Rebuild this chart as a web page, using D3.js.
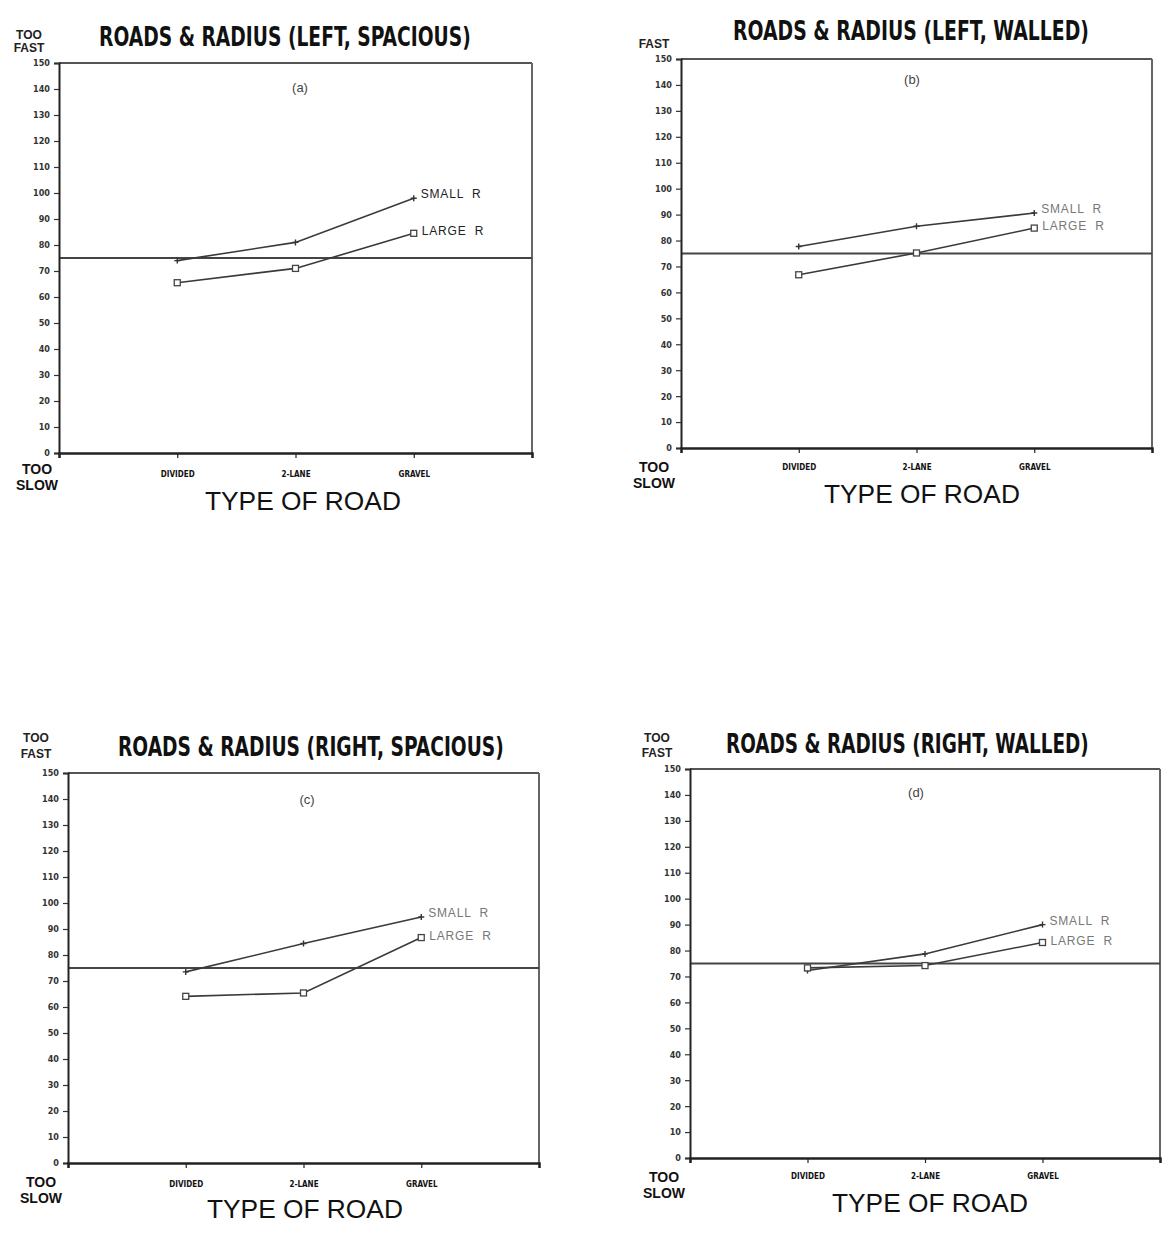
<!DOCTYPE html>
<html><head><meta charset="utf-8">
<script src="https://cdn.jsdelivr.net/npm/d3@7"></script>
<style>
html,body{margin:0;padding:0;background:#fff;}
svg{display:block;}
</style></head>
<body>
<svg id="chart" width="1162" height="1236"></svg>
<script>
// ---------- DATA ----------
const categories = ["DIVIDED", "2-LANE", "GRAVEL"];
const yTickValues = [0,10,20,30,40,50,60,70,80,90,100,110,120,130,140,150];
const titles = [
  "ROADS & RADIUS (LEFT, SPACIOUS)",
  "ROADS & RADIUS (LEFT, WALLED)",
  "ROADS & RADIUS (RIGHT, SPACIOUS)",
  "ROADS & RADIUS (RIGHT, WALLED)"
];
const panelTags = ["(a)", "(b)", "(c)", "(d)"];
const seriesNames = ["SMALL  R", "LARGE  R"];
const referenceValue = 75;

const smallR_a = [74, 81, 98];
const largeR_a = [65.5, 71, 84.5];
const smallR_b = [77.7, 85.5, 90.6];
const largeR_b = [66.8, 75.2, 84.8];
const smallR_c = [73.5, 84.4, 94.6];
const largeR_c = [64.1, 65.4, 86.7];
const smallR_d = [72.3, 78.7, 90];
const largeR_d = [73.3, 74.2, 83.1];

const smallSeries = [smallR_a, smallR_b, smallR_c, smallR_d];
const largeSeries = [largeR_a, largeR_b, largeR_c, largeR_d];

// ---------- LAYOUT ----------
const layout = [
  {x0:59,  x1:532,  yb:453,  yt:63,  titleX:[99,471],  titleY:46,
   fast:{x:29, y:[39,52], lines:["TOO","FAST"]}, slow:{x:37, y:[474,490]},
   catY:477, roadY:510, roadX:303, tag:[300,92]},
  {x0:681, x1:1152, yb:448,  yt:59,  titleX:[733,1089], titleY:40,
   fast:{x:654, y:[48], lines:["FAST"]}, slow:{x:654, y:[472,488]},
   catY:470, roadY:503, roadX:922, tag:[912,84]},
  {x0:68,  x1:539,  yb:1163, yt:773, titleX:[118,504], titleY:756,
   fast:{x:36, y:[742,758], lines:["TOO","FAST"]}, slow:{x:41, y:[1187,1203]},
   catY:1187, roadY:1218, roadX:305, tag:[307,804]},
  {x0:690, x1:1160, yb:1158, yt:769, titleX:[726,1089], titleY:753,
   fast:{x:657, y:[742,757], lines:["TOO","FAST"]}, slow:{x:664, y:[1182,1198]},
   catY:1179, roadY:1212, roadX:930, tag:[916,797]}
];

const svg = d3.select("#chart");
const narrow = "'Liberation Sans Narrow','DejaVu Sans Condensed','Liberation Sans',Arial,sans-serif";
const sans = "'Liberation Sans',Arial,Helvetica,sans-serif";

// place a text so it spans exactly [xa, xb] by horizontal scaling
function fitText(sel, xa, xb, yBase) {
  const w = sel.node().getComputedTextLength();
  const s = (xb - xa) / w;
  sel.attr("x", 0).attr("y", 0)
     .attr("transform", `translate(${xa},${yBase}) scale(${s},1)`);
}

layout.forEach((L, i) => {
  const g = svg.append("g");
  const x = d3.scalePoint().domain(["_start", ...categories, "_end"]).range([L.x0, L.x1]);
  const y = d3.scaleLinear().domain([0, 150]).range([L.yb, L.yt]);

  // title
  const t = g.append("text")
    .style("font-family", narrow).style("font-weight", "bold")
    .style("font-size", "27px").attr("fill", "#111")
    .text(titles[i]);
  fitText(t, L.titleX[0], L.titleX[1], L.titleY);

  // TOO FAST
  L.fast.lines.forEach((tx, k) => {
    g.append("text").attr("x", L.fast.x).attr("y", L.fast.y[k])
      .attr("text-anchor", "middle")
      .style("font-family", sans).style("font-weight", "bold").style("font-size", "12px")
      .attr("fill", "#222").text(tx);
  });
  // TOO SLOW
  ["TOO", "SLOW"].forEach((tx, k) => {
    g.append("text").attr("x", L.slow.x).attr("y", L.slow.y[k])
      .attr("text-anchor", "middle")
      .style("font-family", sans).style("font-weight", "bold").style("font-size", "14px")
      .attr("fill", "#111").text(tx);
  });

  // frame: top and right
  g.append("line").attr("x1", L.x0).attr("x2", L.x1).attr("y1", y(150)).attr("y2", y(150))
    .attr("stroke", "#555").attr("stroke-width", 2);
  g.append("line").attr("x1", L.x1).attr("x2", L.x1).attr("y1", y(150)).attr("y2", y(0))
    .attr("stroke", "#666").attr("stroke-width", 2);

  // reference line
  g.append("line").attr("x1", L.x0).attr("x2", L.x1)
    .attr("y1", y(referenceValue)).attr("y2", y(referenceValue))
    .attr("stroke", "#444").attr("stroke-width", 2);

  // y axis
  const ya = g.append("g").attr("transform", `translate(${L.x0},0)`)
    .call(d3.axisLeft(y).tickValues(yTickValues).tickSize(5).tickPadding(4).tickFormat(d3.format("d")));
  ya.select(".domain").attr("stroke", "#222").attr("stroke-width", 2);
  ya.selectAll(".tick line").attr("stroke", "#333").attr("stroke-width", 1.2);
  ya.selectAll(".tick text").style("font-family", narrow).style("font-weight", "bold")
    .style("font-size", "9px").attr("fill", "#333");

  // x axis
  const xa = g.append("g").attr("transform", `translate(0,${L.yb})`)
    .call(d3.axisBottom(x).tickSize(5).tickPadding(10)
      .tickFormat(d => d.startsWith("_") ? "" : d));
  xa.select(".domain").attr("stroke", "#222").attr("stroke-width", 2.5);
  xa.selectAll(".tick line").attr("stroke", "#222").attr("stroke-width", 1.2);
  xa.selectAll(".tick text").attr("y", null).attr("dy", null)
    .attr("transform", `translate(0,${L.catY - L.yb})`)
    .style("font-family", narrow).style("font-weight", "bold")
    .style("font-size", "8px").attr("fill", "#111");

  // axis title
  const rt = g.append("text")
    .style("font-family", sans).style("font-size", "25px").attr("fill", "#111")
    .text("TYPE OF ROAD");
  fitText(rt, L.roadX - 98, L.roadX + 98, L.roadY);

  // panel tag
  g.append("text").attr("x", L.tag[0]).attr("y", L.tag[1]).attr("text-anchor", "middle")
    .style("font-family", sans).style("font-size", "13px").attr("fill", "#444")
    .text(panelTags[i]);

  // series
  const line = d3.line().x((d, k) => x(categories[k])).y(d => y(d));
  const sData = smallSeries[i], lData = largeSeries[i];
  [sData, lData].forEach((ser) => {
    g.append("path").attr("d", line(ser)).attr("fill", "none")
      .attr("stroke", "#3a3a3a").attr("stroke-width", 1.6);
  });
  // plus markers (small R)
  g.selectAll(".plus").data(sData).enter().append("path")
    .attr("d", (d, k) => {
      const cx = x(categories[k]), cy = y(d);
      return `M${cx-3},${cy}H${cx+3}M${cx},${cy-3}V${cy+3}`;
    }).attr("stroke", "#333").attr("stroke-width", 1.4);
  // square markers (large R)
  g.selectAll(".sq").data(lData).enter().append("rect")
    .attr("x", (d, k) => x(categories[k]) - 3).attr("y", d => y(d) - 3)
    .attr("width", 6).attr("height", 6)
    .attr("fill", "#fff").attr("stroke", "#444").attr("stroke-width", 1.3);

  // series labels
  const gx = x(categories[2]);
  g.append("text").attr("x", gx + 7).attr("y", y(sData[2]) - 3)
    .attr("dominant-baseline", "middle")
    .style("font-family", sans).style("font-size", "12px").style("letter-spacing", "0.8px")
    .attr("fill", i === 0 ? "#222" : "#777").attr("xml:space", "preserve")
    .style("white-space", "pre").text(seriesNames[0]);
  g.append("text").attr("x", gx + 8).attr("y", y(lData[2]) - 1)
    .attr("dominant-baseline", "middle")
    .style("font-family", sans).style("font-size", "12px").style("letter-spacing", "0.8px")
    .attr("fill", i === 0 ? "#222" : "#777").attr("xml:space", "preserve")
    .style("white-space", "pre").text(seriesNames[1]);
});
</script>
</body></html>
